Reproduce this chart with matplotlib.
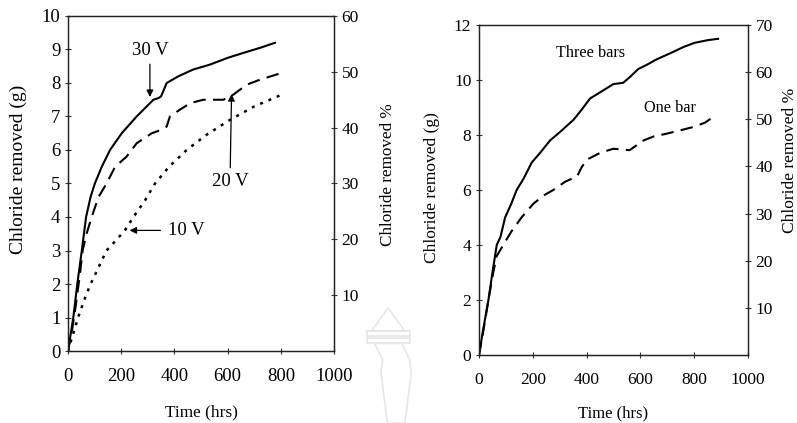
import matplotlib.pyplot as plt
from matplotlib.patches import Polygon
import numpy as np

plt.rcParams['font.family'] = ['Liberation Serif', 'DejaVu Serif']

# chloride removed (g) vs time (hrs) at three applied voltages
t_30v = [0, 10, 20, 35, 52, 68, 85, 101, 127, 158, 202, 258, 321, 340, 350, 371, 415, 470, 534, 600, 660, 722, 778]
g_30v = [0, 0.5, 1.0, 2.0, 3.0, 4.0, 4.6, 5.0, 5.5, 6.0, 6.5, 7.0, 7.5, 7.55, 7.6, 8.0, 8.2, 8.4, 8.55, 8.75, 8.9, 9.05, 9.2]
t_20v = [0, 15, 30, 45, 55, 70, 89, 115, 145, 177, 220, 258, 315, 350, 371, 383, 420, 460, 509, 560, 584, 621, 672, 722, 803]
g_20v = [0, 0.6, 1.4, 2.3, 3.0, 3.5, 4.0, 4.6, 5.0, 5.5, 5.8, 6.2, 6.5, 6.6, 6.7, 7.0, 7.2, 7.4, 7.5, 7.5, 7.5, 7.65, 7.95, 8.1, 8.3]
t_10v = [0, 15, 38, 60, 85, 115, 145, 180, 214, 246, 290, 327, 380, 446, 520, 609, 700, 803]
g_10v = [0, 0.4, 1.0, 1.5, 2.0, 2.5, 3.0, 3.3, 3.6, 4.0, 4.5, 5.0, 5.5, 6.0, 6.45, 6.9, 7.3, 7.65]

# chloride removed (g) vs time (hrs) for one and three bars
t_three = [0, 15, 35, 50, 66, 80, 97, 120, 140, 165, 196, 227, 264, 300, 351, 380, 413, 450, 499, 536, 560, 592, 623, 660, 710, 760, 800, 850, 889]
g_three = [0, 0.9, 2.0, 3.0, 4.0, 4.3, 5.0, 5.5, 6.0, 6.4, 7.0, 7.35, 7.8, 8.1, 8.55, 8.9, 9.33, 9.55, 9.85, 9.9, 10.1, 10.4, 10.55, 10.75, 10.97, 11.2, 11.35, 11.45, 11.5]
t_one = [0, 15, 35, 53, 66, 90, 121, 158, 202, 240, 276, 320, 365, 380, 400, 450, 499, 560, 611, 650, 698, 760, 800, 840, 870]
g_one = [0, 0.8, 2.0, 3.0, 3.6, 4.0, 4.5, 5.0, 5.5, 5.8, 6.0, 6.3, 6.5, 6.8, 7.1, 7.35, 7.5, 7.45, 7.8, 7.95, 8.05, 8.2, 8.3, 8.45, 8.65]

fig = plt.figure(figsize=(7.97, 4.23), dpi=100)


def style_axes(ax, ax2, ymax, yticks, pmax, pticks, tick_fs, right_fs):
	ax.set_xlim(0, 1000)
	ax.set_ylim(0, ymax)
	ax.set_xticks(np.arange(0, 1001, 200))
	ax.set_yticks(yticks)
	ax2.set_ylim(0, pmax)
	ax2.set_yticks(pticks)
	for a in (ax, ax2):
		for s in a.spines.values():
			s.set_linewidth(0.9)
			s.set_color('#222222')
		a.tick_params(direction='inout', length=4, width=0.8, color='#333333')
	ax.tick_params(labelsize=tick_fs)
	ax2.tick_params(labelsize=right_fs)
	ax.tick_params(axis='x', pad=10)


# left: effect of voltage
ax1 = fig.add_axes([0.0853, 0.1702, 0.3338, 0.792])
ax1b = ax1.twinx()
style_axes(ax1, ax1b, 10, range(0, 11), 60, range(10, 61, 10), 13.5, 12.5)
ax1.set_xlabel('Time (hrs)', fontsize=12.4)
ax1.set_ylabel('Chloride removed (g)', fontsize=14)
ax1b.set_ylabel('Chloride removed %', fontsize=12.3)
ax1.xaxis.set_label_coords(0.5, -0.158)
ax1.yaxis.set_label_coords(-0.154, 0.543)
ax1b.yaxis.set_label_coords(1.173, 0.525)

ax1.plot(t_30v, g_30v, '-', color='black', lw=1.5)
ax1.plot(t_20v, g_20v, color='black', lw=1.5, dashes=(6, 3.5))
ax1.plot(t_10v, g_10v, color='black', lw=1.8, dashes=(1.2, 2.4))

arrow = dict(arrowstyle='-|>', color='black', lw=0.9, mutation_scale=10)
ax1.annotate('30 V', xy=(308, 7.5), xytext=(308, 8.98), ha='center', va='center',
	fontsize=13.5, arrowprops=arrow)
ax1.annotate('20 V', xy=(615, 7.75), xytext=(609, 5.05), ha='center', va='center',
	fontsize=13.5, arrowprops=arrow)
ax1.annotate('', xy=(221, 3.6), xytext=(358, 3.6), arrowprops=arrow)
ax1.text(446, 3.61, '10 V', ha='center', va='center', fontsize=13.5)

# right: one bar vs three bars
ax2 = fig.add_axes([0.601, 0.1608, 0.3375, 0.780])
ax2b = ax2.twinx()
style_axes(ax2, ax2b, 12, range(0, 13, 2), 70, range(10, 71, 10), 12.5, 12.5)
ax2.set_xlabel('Time (hrs)', fontsize=12)
ax2.set_ylabel('Chloride removed (g)', fontsize=12.5)
ax2b.set_ylabel('Chloride removed %', fontsize=12.5)
ax2.xaxis.set_label_coords(0.5, -0.152)
ax2.yaxis.set_label_coords(-0.145, 0.506)
ax2b.yaxis.set_label_coords(1.125, 0.59)

ax2.plot(t_three, g_three, '-', color='black', lw=1.5)
ax2.plot(t_one, g_one, color='black', lw=1.5, dashes=(6, 3.5))
ax2.text(413, 10.97, 'Three bars', ha='center', va='center', fontsize=11.7)
ax2.text(710, 8.97, 'One bar', ha='center', va='center', fontsize=11.7)

# faint emblem between the panels
wm = dict(closed=True, fill=False, ec='#e6e6e6', lw=1.2, transform=fig.transFigure)
fig.patches.append(Polygon([(0.470, 0.188), (0.480, 0.150), (0.478, 0.118), (0.482, 0.060),
	(0.486, 0.0), (0.508, 0.0), (0.512, 0.060), (0.516, 0.118), (0.514, 0.150),
	(0.504, 0.188)], **wm))
for y0, y1 in [(0.188, 0.200), (0.205, 0.217)]:
	fig.patches.append(Polygon([(0.460, y0), (0.514, y0), (0.514, y1), (0.460, y1)], **wm))
fig.patches.append(Polygon([(0.466, 0.217), (0.487, 0.272), (0.508, 0.217)], **wm))

fig.savefig('out.png', dpi=100)
